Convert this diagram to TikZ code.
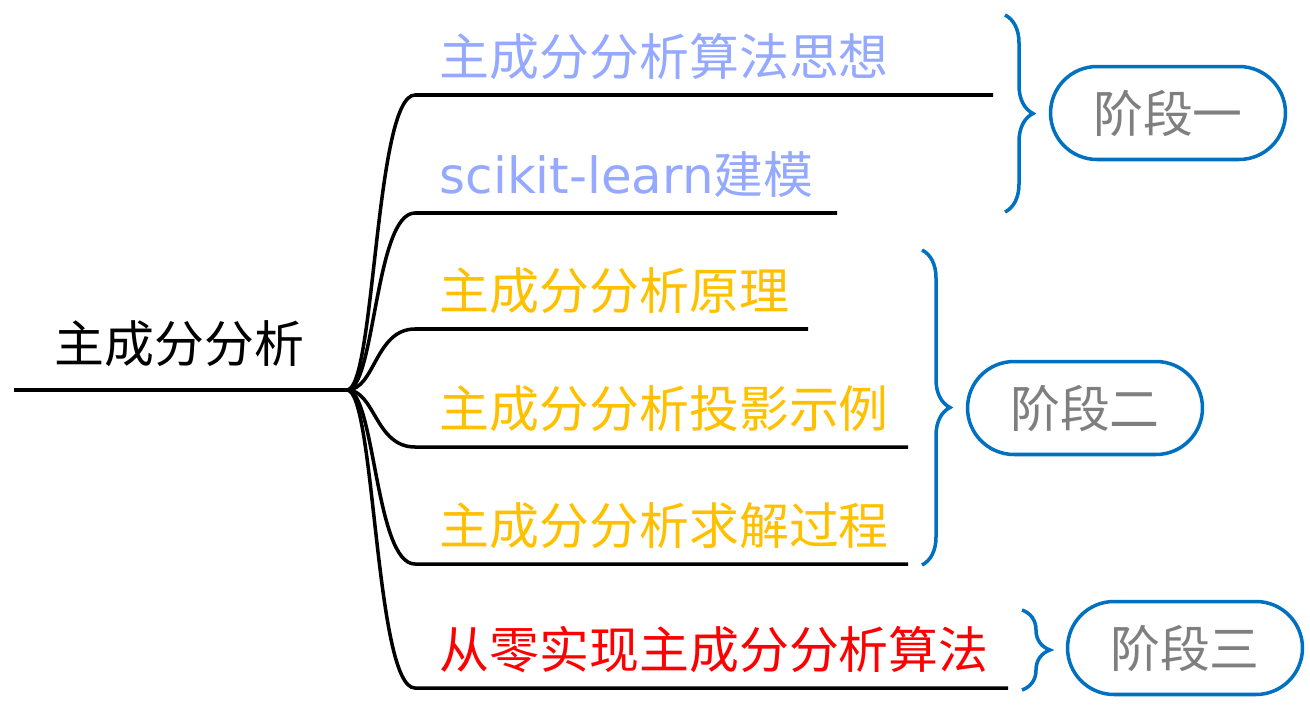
\documentclass[tikz,border=0pt]{standalone}
\usepackage{fontspec}
\setmainfont{Noto Sans CJK SC}
\newfontfamily\latinzi{DejaVu Sans}
\usetikzlibrary{decorations.pathreplacing,shapes.misc}
\definecolor{lanse}{HTML}{94A9FF}
\definecolor{chengse}{HTML}{FFC000}
\definecolor{hongse}{HTML}{FF0000}
\definecolor{kuohao}{HTML}{0070C0}
\definecolor{huise}{HTML}{7F7F7F}
\begin{document}
\begin{tikzpicture}[x=0.02cm, y=-0.02cm, line width=2pt,
	zhi/.style={anchor=base west, inner sep=0pt, font=\fontsize{28.4}{30}\selectfont},
	kuo/.style={kuohao, decorate, decoration={brace, amplitude=0.56cm}},
	jieduan/.style={rounded rectangle, draw=kuohao, text=huise, minimum width=4.7cm, minimum height=1.86cm, inner sep=0pt, font=\fontsize{28.4}{30}\selectfont}]
	\useasboundingbox (0,0) rectangle (1310,710);
	
	% Gốc của sơ đồ
	\coordinate (O) at (347,390);
	\coordinate (L) at (14,390);
	\draw (L) -- (O);
	\node[zhi] (goc) at (53,362) {主成分分析};
	
	% Các điểm đầu và cuối của các nhánh
	\coordinate (A1) at (415,95);  \coordinate (B1) at (993,95);
	\coordinate (A2) at (415,213); \coordinate (B2) at (837,213);
	\coordinate (A3) at (415,329); \coordinate (B3) at (808,329);
	\coordinate (A4) at (415,447); \coordinate (B4) at (908,447);
	\coordinate (A5) at (415,564); \coordinate (B5) at (908,564);
	\coordinate (A6) at (415,688); \coordinate (B6) at (1008,688);
	
	% Vẽ các nhánh cong
	\draw (O) .. controls (375,390) and (375,95) .. (A1) -- (B1);
	\draw (O) .. controls (375,390) and (375,213) .. (A2) -- (B2);
	\draw (O) .. controls (375,390) and (375,329) .. (A3) -- (B3);
	\draw (O) .. controls (375,390) and (375,447) .. (A4) -- (B4);
	\draw (O) .. controls (375,390) and (375,564) .. (A5) -- (B5);
	\draw (O) .. controls (375,390) and (375,688) .. (A6) -- (B6);
	
	% Tên các nhánh
	\node[zhi, text=lanse] (n1) at (438,75) {主成分分析算法思想};
	\node[zhi, text=lanse] (n2) at (438,193) {{\latinzi scikit-learn}建模};
	\node[zhi, text=chengse] (n3) at (438,309) {主成分分析原理};
	\node[zhi, text=chengse] (n4) at (438,427) {主成分分析投影示例};
	\node[zhi, text=chengse] (n5) at (438,544) {主成分分析求解过程};
	\node[zhi, text=hongse] (n6) at (438,668) {从零实现主成分分析算法};
	
	% Dấu ngoặc
	\draw[kuo] (1005,15) -- (1005,212);
	\draw[kuo] (922,250) -- (922,565);
	\draw[kuo] (1022,610) -- (1022,690);
	
	% Các giai đoạn
	\node[jieduan] (jd1) at (1168,113) {阶段一};
	\node[jieduan] (jd2) at (1085,408) {阶段二};
	\node[jieduan] (jd3) at (1185,648) {阶段三};
\end{tikzpicture}
\end{document}
